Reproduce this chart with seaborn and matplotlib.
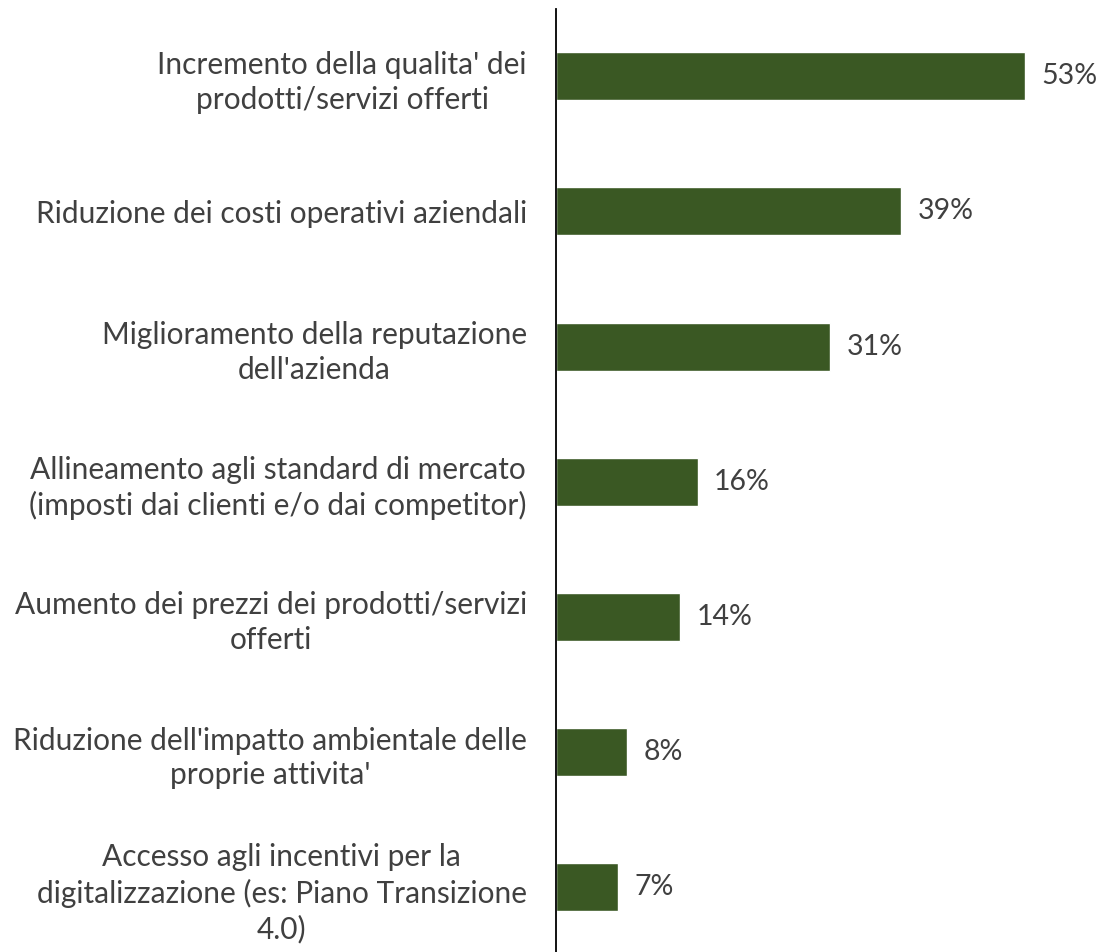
import numpy as np
import pandas as pd
import seaborn as sns
import matplotlib
matplotlib.use("Agg")
import matplotlib.pyplot as plt

# Chart data
categories = [
    "Incremento della qualita' dei\nprodotti/servizi offerti",
    "Riduzione dei costi operativi aziendali",
    "Miglioramento della reputazione\ndell'azienda",
    "Allineamento agli standard di mercato\n(imposti dai clienti e/o dai competitor)",
    "Aumento dei prezzi dei prodotti/servizi\nofferti",
    "Riduzione dell'impatto ambientale delle\nproprie attivita'",
    "Accesso agli incentivi per la\ndigitalizzazione (es: Piano Transizione\n4.0)",
]
values = [53, 39, 31, 16, 14, 8, 7]
value_labels = ["53%", "39%", "31%", "16%", "14%", "8%", "7%"]

df = pd.DataFrame({"categoria": categories, "valore": values})

sns.set_style("white")
plt.rcParams["font.family"] = ["Lato", "DejaVu Sans"]

text_color = "#404040"
bar_color = "#3A5823"

fig = plt.figure(figsize=(11.01, 9.52), dpi=100)
ax = fig.add_axes([0.505, -0.003, 0.482, 0.994])

sns.barplot(data=df, x="valore", y="categoria", orient="h", color=bar_color,
            width=0.355, saturation=1, ax=ax)

# Percent labels at bar ends
ax.bar_label(ax.containers[0], labels=value_labels, padding=12,
             fontsize=20.5, color=text_color)

ax.set_xlim(0, 60)
ax.set_ylim(6.5, -0.5)
ax.set_xlabel("")
ax.set_ylabel("")
ax.set_xticks([])

for s in ["top", "right", "bottom"]:
    ax.spines[s].set_visible(False)
ax.spines["left"].set_color("#000000")
ax.spines["left"].set_linewidth(1.3)

ax.tick_params(axis="y", length=0, pad=21, labelsize=21.5, labelcolor=text_color)
for lbl in ax.get_yticklabels():
    lbl.set_multialignment("center")
    lbl.set_linespacing(1.3)

fig.savefig("out.png", dpi=100, facecolor="white")
